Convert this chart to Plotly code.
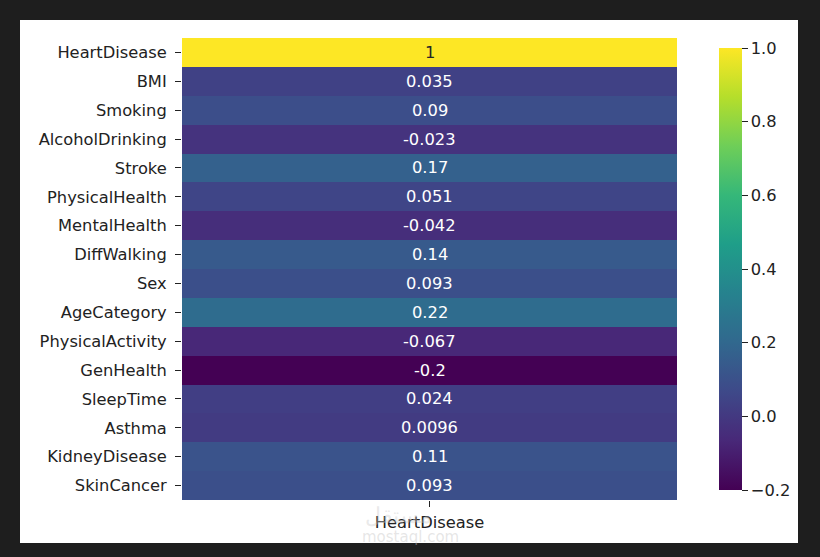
import plotly.graph_objects as go

features = ["HeartDisease", "BMI", "Smoking", "AlcoholDrinking", "Stroke",
            "PhysicalHealth", "MentalHealth", "DiffWalking", "Sex", "AgeCategory",
            "PhysicalActivity", "GenHealth", "SleepTime", "Asthma",
            "KidneyDisease", "SkinCancer"]
column = ["HeartDisease"]
corr_values = [1.0, 0.035, 0.09, -0.023, 0.17, 0.051, -0.042, 0.14, 0.093,
               0.22, -0.067, -0.2, 0.024, 0.0096, 0.11, 0.093]
cbar_ticks = [-0.2, 0.0, 0.2, 0.4, 0.6, 0.8, 1.0]

FONT = "DejaVu Sans"
FS = 16.3
TXT = "#222222"

fig = go.Figure()
fig.add_trace(go.Heatmap(
    z=[[v] for v in corr_values],
    x=column,
    y=features,
    colorscale="Viridis",
    zmin=min(corr_values),
    zmax=max(corr_values),
    xgap=0, ygap=0,
    hoverinfo="skip",
    colorbar=dict(
        x=(709 - 182) / 495, xanchor="left", xref="paper",
        y=0, yanchor="bottom", len=1, lenmode="fraction",
        thickness=23, thicknessmode="pixels",
        outlinewidth=0,
        tickvals=cbar_ticks,
        ticktext=[f"{t:.1f}".replace("-", "\u2212") for t in cbar_ticks],
        ticks="outside", ticklen=6, tickwidth=1, tickcolor=TXT,
        tickfont=dict(family=FONT, size=FS, color=TXT),
    ),
))

# seaborn-style cell annotations
for name, v in zip(features, corr_values):
    fig.add_annotation(
        x=column[0], y=name, xref="x", yref="y",
        text=f"{v:.2g}", showarrow=False,
        font=dict(family=FONT, size=FS, color="#262626" if v > 0.6 else "#ffffff"),
    )

W, H = 820, 557
# white canvas inside dark frame
fig.add_shape(type="rect", xref="paper", yref="paper",
              x0=(20 - 182) / 495, x1=(798 - 182) / 495,
              y0=(557 - 57 - 543) / 462, y1=(557 - 57 - 20) / 462,
              fillcolor="white", line=dict(width=0), layer="below")

# faint watermark
fig.add_annotation(xref="paper", yref="paper", x=(398 - 182) / 495, y=(500 - 514) / 462,
                   xanchor="center", yanchor="middle",
                   text="مستقل", showarrow=False,
                   font=dict(family="Noto Sans", size=22, color="rgba(200,200,200,0.4)"))
fig.add_annotation(xref="paper", yref="paper", x=(410 - 182) / 495, y=(500 - 537) / 462,
                   xanchor="center", yanchor="middle",
                   text="mostaql.com", showarrow=False,
                   font=dict(family=FONT, size=15, color="rgba(200,200,200,0.45)"))

fig.update_xaxes(
    type="category", showgrid=False, zeroline=False, showline=False,
    ticks="outside", ticklen=6, tickwidth=1, tickcolor=TXT,
    ticklabelstandoff=1,
    tickfont=dict(family=FONT, size=FS, color=TXT),
)
fig.update_yaxes(
    type="category", autorange="reversed", showgrid=False, zeroline=False, showline=False,
    ticks="outside", ticklen=6, tickwidth=1, tickcolor=TXT,
    ticklabelstandoff=5,
    tickfont=dict(family=FONT, size=FS, color=TXT),
)

fig.update_layout(
    width=W, height=H,
    margin=dict(l=182, r=820 - 677, t=38, b=57, pad=0),
    paper_bgcolor="#1e1e1e",
    plot_bgcolor="white",
    font=dict(family=FONT, size=FS, color=TXT),
    showlegend=False,
)

fig.write_html("out.html", config={"displayModeBar": False},
               post_script="document.body.style.margin='0';document.body.style.background='#1e1e1e';")
